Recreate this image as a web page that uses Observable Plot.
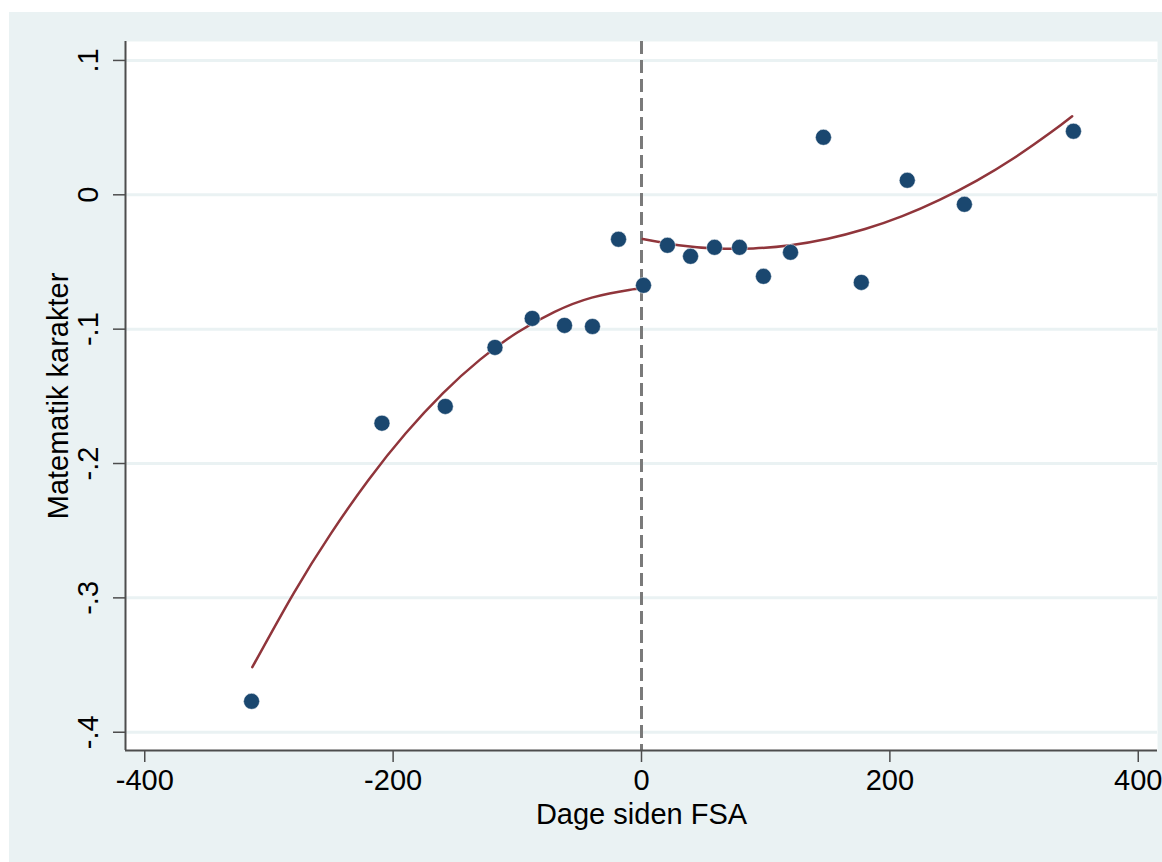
<!DOCTYPE html>
<html>
<head>
<meta charset="utf-8">
<script src="https://cdn.jsdelivr.net/npm/d3@7"></script>
<script src="https://cdn.jsdelivr.net/npm/@observablehq/plot@0.6"></script>
<style>
  html, body { margin: 0; padding: 0; background: #ffffff; }
  #wrap { position: absolute; left: 9px; top: 12px; width: 1153px; height: 850px; background: #eaf2f3; }
  svg { display: block; }
</style>
</head>
<body>
<div id="wrap"></div>
<script>
// Binned scatter points
const days = [-314, -209, -158, -118, -88, -62, -39.5, -18.5, 1.6, 20.9, 39.5, 58.8, 78.9, 98.2, 120, 146.5, 177, 214, 260, 347.8];
const grades = [-0.377, -0.170, -0.1575, -0.1136, -0.092, -0.0972, -0.098, -0.0331, -0.0674, -0.0376, -0.0458, -0.0391, -0.0391, -0.0607, -0.0428, 0.0428, -0.0652, 0.0108, -0.0071, 0.0473];

// Fitted curve before FSA
const fitLeftX = [-313.4, -280, -250, -220, -190, -160, -130, -100, -70, -40, -10, 0];
const fitLeftY = [-0.3516, -0.2964, -0.2520, -0.2124, -0.1777, -0.1478, -0.1227, -0.1025, -0.0871, -0.0765, -0.0708, -0.0700];

// Fitted curve after FSA
const fitRightX = [1, 30, 60, 90, 120, 150, 180, 210, 240, 270, 300, 330, 346.8];
const fitRightY = [-0.0329, -0.0375, -0.0399, -0.0399, -0.0375, -0.0327, -0.0255, -0.0159, -0.0038, 0.0106, 0.0274, 0.0467, 0.0585];

const xTicks = [-400, -200, 0, 200, 400];
const yTicks = [-0.4, -0.3, -0.2, -0.1, 0, 0.1];
const xDomain = [-415.5, 415.5];
const yDomain = [-0.4136, 0.1141];

const xLabel = "Dage siden FSA";
const yLabel = "Matematik karakter";

const points = days.map((d, i) => ({x: d, y: grades[i]}));
const leftFit = fitLeftX.map((d, i) => ({x: d, y: fitLeftY[i]}));
const rightFit = fitRightX.map((d, i) => ({x: d, y: fitRightY[i]}));

const stataFmt = d => {
  if (Math.abs(d) < 1e-9) return "0";
  return d.toFixed(1).replace(/^(-?)0\./, "$1.");
};

const axisColor = "#4d4d4d";
const font = "'Liberation Sans', Arial, sans-serif";

const chart = Plot.plot({
  width: 1153,
  height: 850,
  marginLeft: 116,
  marginTop: 29,
  marginRight: 5,
  marginBottom: 112,
  style: {background: "transparent", fontFamily: font, fontSize: "29px", color: "#000"},
  x: {domain: xDomain, ticks: xTicks},
  y: {domain: yDomain, ticks: yTicks},
  marks: [
    Plot.frame({fill: "white", stroke: null}),
    Plot.gridY(yTicks, {stroke: "#eaf2f3", strokeOpacity: 1, strokeWidth: 3}),
    Plot.ruleX([0], {stroke: "#7a7a7a", strokeWidth: 3, strokeDasharray: "13,6"}),
    Plot.line(leftFit, {x: "x", y: "y", curve: "natural", stroke: "#90353b", strokeWidth: 2.5}),
    Plot.line(rightFit, {x: "x", y: "y", curve: "natural", stroke: "#90353b", strokeWidth: 2.5}),
    Plot.dot(points, {x: "x", y: "y", r: 8, fill: "#1a476f", stroke: "white", strokeWidth: 0.5}),
    Plot.ruleX([xDomain[0]], {stroke: axisColor, strokeWidth: 2}),
    Plot.ruleY([yDomain[0]], {stroke: axisColor, strokeWidth: 2}),
    Plot.axisX(xTicks, {tickSize: 12, tickPadding: 7, stroke: axisColor, strokeWidth: 1.5, tickFormat: d => String(d), fontSize: 29, label: null, fill: "#000"}),
    Plot.axisY(yTicks, {tickSize: 12, tickPadding: 16, tickRotate: -90, stroke: axisColor, strokeWidth: 1.5, tickFormat: stataFmt, fontSize: 29, label: null, fill: "#000"}),
    Plot.text([xLabel], {frameAnchor: "bottom", dy: 53, lineAnchor: "top", fontSize: 29, fill: "#000"}),
    Plot.text([yLabel], {frameAnchor: "left", dx: -58, rotate: -90, lineAnchor: "bottom", textAnchor: "middle", fontSize: 29, fill: "#000"})
  ]
});

document.getElementById("wrap").appendChild(chart);
</script>
</body>
</html>
